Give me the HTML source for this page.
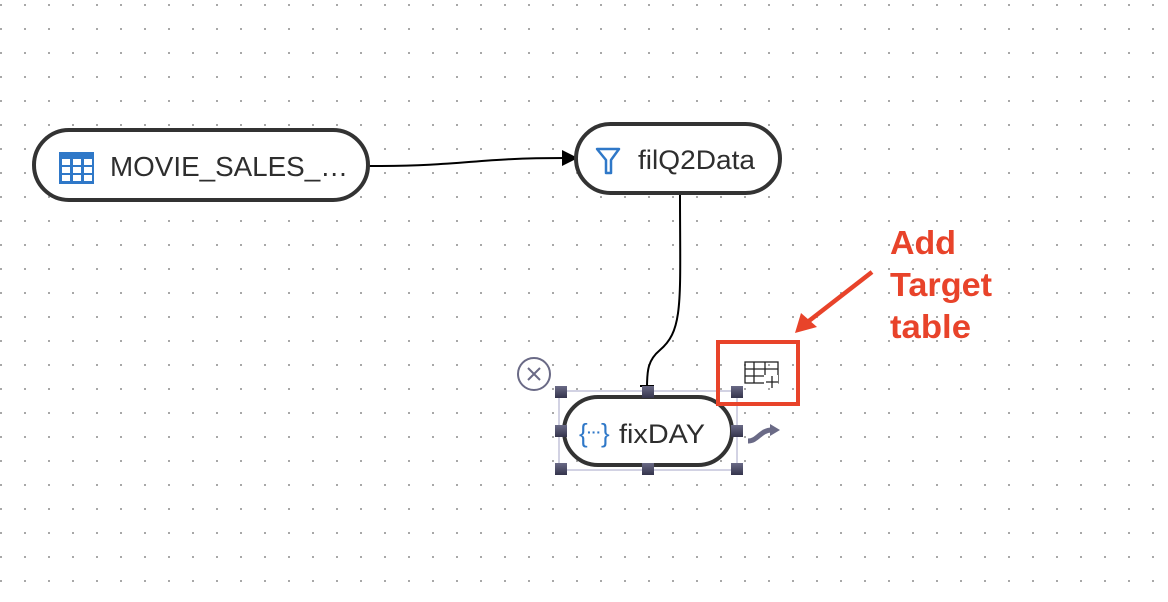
<!DOCTYPE html>
<html><head><style>
html,body{margin:0;padding:0;background:#fff;}
svg{display:block;}
text{font-family:"Liberation Sans",sans-serif;}
</style></head><body>
<svg width="1168" height="602" viewBox="0 0 1168 602" xmlns="http://www.w3.org/2000/svg">
<defs>
<pattern id="dots" x="0" y="4" width="24" height="24" patternUnits="userSpaceOnUse">
<rect x="0" y="0" width="2" height="2" fill="#a8a8a8"/>
</pattern>
<linearGradient id="hg" x1="0" y1="0" x2="0" y2="1"><stop offset="0" stop-color="#6a6a86"/><stop offset="1" stop-color="#34344c"/></linearGradient>
</defs>
<rect width="1168" height="602" fill="url(#dots)"/>

<path d="M368,166 C470,166 470,158 566,158" fill="none" stroke="#000" stroke-width="2"/>
<polygon points="562,150 578,158 562,166" fill="#000"/>
<path d="M680,194 C680,300 684,330 660,350 C648,360 647,370 647,388" fill="none" stroke="#000" stroke-width="2"/>
<path d="M640,386 L654,386" stroke="#000" stroke-width="2"/>

<rect x="34" y="130" width="334" height="70" rx="35" fill="#fff" stroke="#333" stroke-width="4"/>
<g>
<rect x="59" y="152" width="35" height="32" fill="#2f78c8"/>
<g fill="#fff">
<rect x="62" y="159" width="8" height="6"/><rect x="73" y="159" width="8" height="6"/><rect x="84" y="159" width="8" height="6"/>
<rect x="62" y="167" width="8" height="6"/><rect x="73" y="167" width="8" height="6"/><rect x="84" y="167" width="8" height="6"/>
<rect x="62" y="175" width="8" height="6"/><rect x="73" y="175" width="8" height="6"/><rect x="84" y="175" width="8" height="6"/>
</g></g>
<text x="110" y="176" font-size="27.5" fill="#2e2e2e" textLength="238" lengthAdjust="spacingAndGlyphs">MOVIE_SALES_…</text>

<rect x="576" y="124" width="204" height="69" rx="34.5" fill="#fff" stroke="#333" stroke-width="4"/>
<path d="M597,149 L619,149 L611,160 L611,173 L606,173 L606,160 Z" fill="none" stroke="#2f78c8" stroke-width="2.5" stroke-linejoin="round"/>
<text x="638" y="169" font-size="26.5" fill="#2e2e2e" textLength="117" lengthAdjust="spacingAndGlyphs">filQ2Data</text>

<rect x="559" y="391" width="178" height="79" fill="none" stroke="#c4c4da" stroke-width="1.5"/>
<rect x="564" y="397" width="168" height="68" rx="34" fill="#fff" stroke="#333" stroke-width="4"/>
<text x="579" y="442" font-size="26" fill="#2f78c8">{</text>
<text x="587" y="437" font-size="14" fill="#2f78c8" font-weight="bold">···</text>
<text x="601" y="442" font-size="26" fill="#2f78c8">}</text>
<text x="619" y="443" font-size="26.5" fill="#2e2e2e" textLength="86" lengthAdjust="spacingAndGlyphs">fixDAY</text>
<g fill="url(#hg)">
<rect x="555" y="386" width="12" height="12"/><rect x="642" y="386" width="12" height="12"/><rect x="731" y="386" width="12" height="12"/>
<rect x="555" y="425" width="12" height="12"/><rect x="731" y="425" width="12" height="12"/>
<rect x="555" y="463" width="12" height="12"/><rect x="642" y="463" width="12" height="12"/><rect x="731" y="463" width="12" height="12"/>
</g>
<circle cx="534" cy="374" r="16" fill="#fff" stroke="#6a6a86" stroke-width="2"/>
<path d="M528,368 L540,380 M540,368 L528,380" stroke="#6a6a86" stroke-width="2"/>
<path d="M748,441 C758,441 760,430 772,430" fill="none" stroke="#6a6a86" stroke-width="5"/>
<polygon points="770,424 780,430 770,436" fill="#6a6a86"/>

<g stroke="#222" stroke-width="1.3" fill="none">
<rect x="745" y="362" width="33" height="21"/>
<path d="M745,369 L778,369 M745,376 L764,376 M754,362 L754,383 M765,362 L765,383"/>
<rect x="764" y="375" width="14" height="10" fill="#fff" stroke="none"/>
<path d="M772,376 L772,388 M766,382 L778,382"/>
</g>
<rect x="718" y="342" width="80" height="62" fill="none" stroke="#e8432a" stroke-width="4"/>

<path d="M872,272 L805,324" stroke="#e8432a" stroke-width="4.5"/>
<polygon points="795,333 801,313 817,327" fill="#e8432a"/>
<g font-size="33" font-weight="bold" fill="#e8432a">
<text x="890" y="254" textLength="66" lengthAdjust="spacingAndGlyphs">Add</text>
<text x="890" y="296" textLength="102" lengthAdjust="spacingAndGlyphs">Target</text>
<text x="890" y="338" textLength="81" lengthAdjust="spacingAndGlyphs">table</text>
</g>
</svg>
</body></html>
